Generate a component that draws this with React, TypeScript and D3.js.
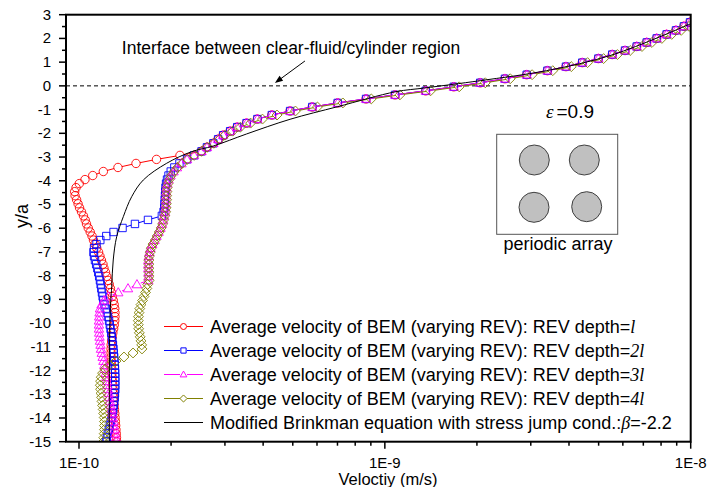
import React from 'react';
import * as d3 from 'd3';

// ---- data (velocities in units of 1e-10 m/s, y in units of a) ----
const yPos = [2.68, 2.51, 2.34, 2.17, 2.0, 1.83, 1.66, 1.49, 1.32, 1.15, 0.98, 0.81, 0.64, 0.47, 0.3, 0.13, -0.04, -0.21, -0.38, -0.55, -0.72, -0.89, -1.06, -1.23, -1.4, -1.57, -1.74, -1.91, -2.08, -2.25, -2.42, -2.59, -2.76, -2.93, -3.1, -3.27, -3.44, -3.61, -3.78, -3.95, -4.12, -4.29, -4.46, -4.63, -4.8, -4.97, -5.14, -5.31, -5.48, -5.65, -5.82, -5.99, -6.16, -6.33, -6.5, -6.67, -6.84, -7.01, -7.18, -7.35, -7.52, -7.69, -7.86, -8.03, -8.2, -8.37, -8.54, -8.71, -8.88, -9.05, -9.22, -9.39, -9.56, -9.73, -9.9, -10.07, -10.24, -10.41, -10.58, -10.75, -10.92, -11.09, -11.26, -11.43, -11.6, -11.77, -11.94, -12.11, -12.28, -12.45, -12.62, -12.79, -12.96, -13.13, -13.3, -13.47, -13.64, -13.81, -13.98, -14.15, -14.32, -14.49, -14.66, -14.83, -15.0];

const vDepth1 = [99.5, 95.0, 89.5, 83.4, 77.4, 71.8, 66.6, 61.0, 55.4, 49.9, 44.2, 39.1, 34.0, 29.1, 24.7, 20.5, 16.8, 13.6, 10.8, 8.68, 7.01, 5.79, 4.9, 4.27, 3.83, 3.53, 3.29, 3.12, 2.96, 2.85, 2.75, 2.62, 2.515,
  2.139, 1.792, 1.536, 1.341, 1.201, 1.109, 1.046, 1.002, 0.978, 0.968, 0.971, 0.982, 0.993, 1.004, 1.019, 1.034, 1.048, 1.058, 1.072, 1.088, 1.103, 1.115, 1.128, 1.143, 1.159, 1.171, 1.184, 1.198, 1.207, 1.221, 1.233, 1.244, 1.256, 1.267, 1.276, 1.285, 1.295, 1.303, 1.309, 1.311, 1.311, 1.309, 1.304, 1.298, 1.29, 1.284, 1.278, 1.274, 1.273, 1.273, 1.274, 1.276, 1.278, 1.28, 1.282, 1.284, 1.287, 1.29, 1.292, 1.295, 1.298, 1.3, 1.303, 1.306, 1.309, 1.312, 1.315, 1.318, 1.321, 1.324, 1.326, 1.328];

const vDepth2 = [99.5, 95.0, 89.5, 83.4, 77.4, 71.8, 66.6, 61.0, 55.4, 49.9, 44.2, 39.1, 34.0, 29.1, 24.7, 20.5, 16.8, 13.6, 10.8, 8.68, 7.01, 5.79, 4.9, 4.27, 3.83, 3.53, 3.29, 3.12, 2.96, 2.85, 2.75, 2.62, 2.515, 2.377, 2.255,
  2.13, 2.05, 1.995, 1.962, 1.94, 1.926, 1.918, 1.914, 1.911, 1.908, 1.904, 1.9, 1.89, 1.866,
  1.681, 1.524, 1.388, 1.297, 1.228, 1.174, 1.141, 1.12, 1.115, 1.12, 1.128, 1.138, 1.148, 1.156, 1.164, 1.171, 1.177, 1.183, 1.189, 1.195, 1.201,
  1.212, 1.223, 1.235, 1.244, 1.254, 1.261, 1.268, 1.274, 1.28, 1.286, 1.291, 1.296, 1.299, 1.303, 1.306, 1.309, 1.311, 1.313, 1.314, 1.314, 1.314, 1.313, 1.311, 1.308, 1.304, 1.299, 1.293, 1.287, 1.279, 1.27, 1.261, 1.252, 1.242, 1.233, 1.225];

const vDepth3 = [99.5, 95.0, 89.5, 83.4, 77.4, 71.8, 66.6, 61.0, 55.4, 49.9, 44.2, 39.1, 34.0, 29.1, 24.7, 20.5, 16.8, 13.6, 10.8, 8.68, 7.01, 5.79, 4.9, 4.27, 3.83, 3.53, 3.29, 3.12, 2.96, 2.85, 2.75, 2.62, 2.515, 2.377, 2.255,
  2.163, 2.091, 2.037, 1.992, 1.962, 1.944, 1.932, 1.928, 1.925, 1.925, 1.92, 1.915, 1.91, 1.896, 1.882, 1.868, 1.847, 1.82, 1.792, 1.766, 1.736, 1.713, 1.7, 1.69, 1.685, 1.685, 1.685, 1.687, 1.687, 1.685,
  1.547, 1.446, 1.344, 1.249, 1.207, 1.185, 1.171, 1.167, 1.164, 1.162, 1.162, 1.162, 1.164, 1.167, 1.171, 1.176, 1.18, 1.187, 1.195, 1.202, 1.21, 1.216, 1.223, 1.228, 1.235, 1.24, 1.244, 1.251, 1.256, 1.263, 1.27, 1.277, 1.284, 1.29, 1.297, 1.301, 1.31, 1.314, 1.319, 1.323];

const vDepth4 = [103.5, 98.8, 93.1, 86.7, 80.5, 74.7, 69.3, 63.4, 57.6, 51.9, 46.0, 40.7, 35.4, 30.3, 25.7, 21.3, 17.5, 14.1, 11.2, 9.03, 7.29, 6.02, 5.1, 4.44, 3.98, 3.64, 3.37, 3.18, 3.0, 2.88, 2.76, 2.62, 2.515, 2.38, 2.26,
  2.174, 2.101, 2.047, 2.002, 1.972, 1.954, 1.942, 1.938, 1.935, 1.935, 1.93, 1.925, 1.92, 1.906, 1.891, 1.877, 1.856, 1.829, 1.801, 1.775, 1.745, 1.722, 1.709, 1.698, 1.693, 1.693, 1.693, 1.695, 1.695,
  1.696, 1.677, 1.666, 1.65, 1.631, 1.613, 1.595, 1.58, 1.571, 1.565, 1.563, 1.563, 1.567, 1.575, 1.585, 1.595, 1.603, 1.607, 1.502, 1.403, 1.321, 1.258, 1.216, 1.194, 1.182, 1.176, 1.174, 1.176, 1.18, 1.185, 1.189, 1.194, 1.2, 1.204, 1.209, 1.211, 1.211, 1.211, 1.209, 1.205, 1.201];

const brinkV = [100, 55.7, 33.8, 20.5, 13.5, 10.87, 7.01, 4.9, 3.53, 2.75, 2.336, 1.935, 1.623, 1.487, 1.396, 1.328, 1.294, 1.279, 1.263, 1.256];
const brinkY = [2.62, 1.315, 0.641, 0.219, -0.089, -0.245, -0.877, -1.408, -2.028, -2.534, -2.774, -3.263, -3.967, -4.671, -5.514, -6.357, -7.34, -8.466, -9.73, -15.0];

const xMajorTicks = [1e-10, 1e-9, 1e-8];
const xTickLabels = ['1E-10', '1E-9', '1E-8'];
const yMajorTicks = [3, 2, 1, 0, -1, -2, -3, -4, -5, -6, -7, -8, -9, -10, -11, -12, -13, -14, -15];

const seriesDepths = ['l', '2l', '3l', '4l'];
const seriesColors = ['#ff0000', '#0000ff', '#ff00ff', '#808000'];
const seriesShapes = ['circle', 'square', 'triangle', 'diamond'];

const UNIT = 1e-10;
const W = 707, H = 487;
const L = 66, R = 690.7, T = 14.7, B = 441.7;
const FONT = '"Liberation Sans", Arial, Helvetica, sans-serif';
const SERIF = '"Liberation Serif", "Times New Roman", serif';

function shapePath(shape: string, s: number) {
  if (shape === 'circle') return `M${-s},0A${s},${s} 0 1,0 ${s},0A${s},${s} 0 1,0 ${-s},0Z`;
  if (shape === 'square') { const h = s * 0.88; return `M${-h},${-h}H${h}V${h}H${-h}Z`; }
  if (shape === 'triangle') return `M0,${-s * 1.15}L${s * 1.12},${s * 0.8}L${-s * 1.12},${s * 0.8}Z`;
  return `M0,${-s * 1.18}L${s * 1.18},0L0,${s * 1.18}L${-s * 1.18},0Z`;
}

export default function App() {
  const x = d3.scaleLog().domain([1e-10, 1e-8]).range([79, R]);
  const y = d3.scaleLinear().domain([-15, 3]).range([B, T]);
  const minorX = x.ticks(20).filter((t) => !xMajorTicks.some((m) => Math.abs(m - t) / m < 1e-6));
  const minorY = d3.range(-14.5, 3, 1);

  const allSeries = [vDepth1, vDepth2, vDepth3, vDepth4];
  const gap = 4;

  const seriesEls = allSeries.map((vals, si) => {
    const pts = vals.map((v, i) => [x(v * UNIT), y(yPos[i])] as [number, number]);
    const segs: string[] = [];
    for (let i = 0; i < pts.length - 1; i++) {
      const [x0, y0] = pts[i];
      const [x1, y1] = pts[i + 1];
      const d = Math.hypot(x1 - x0, y1 - y0);
      if (d > 2 * gap + 0.5) {
        const ux = (x1 - x0) / d, uy = (y1 - y0) / d;
        segs.push(`M${x0 + ux * gap},${y0 + uy * gap}L${x1 - ux * gap},${y1 - uy * gap}`);
      }
    }
    const p = shapePath(seriesShapes[si], 4.2);
    return (
      <g key={si}>
        <path d={segs.join('')} stroke={seriesColors[si]} strokeWidth={1} fill="none" />
        {pts.map(([px, py], i) => (
          <path key={i} d={p} transform={`translate(${px},${py})`} stroke={seriesColors[si]} strokeWidth={0.9} fill="none" />
        ))}
      </g>
    );
  });

  const brinkLine = d3.line<number>()
    .x((d) => x(brinkV[d] * UNIT))
    .y((d) => y(brinkY[d]))
    .curve(d3.curveCatmullRom.alpha(0.5))(brinkV.map((_, i) => i));

  const legendRows = [0, 1, 2, 3, 4];
  const legBase = 333;

  const arrowTail: [number, number] = [x(5.48e-10), y(1.05)];
  const arrowHead: [number, number] = [x(4.37e-10), y(0.12)];
  const adx = arrowHead[0] - arrowTail[0], ady = arrowHead[1] - arrowTail[1];
  const alen = Math.hypot(adx, ady);
  const aux = adx / alen, auy = ady / alen;
  const ah = 8, aw = 3;
  const headPts = [
    arrowHead,
    [arrowHead[0] - aux * ah - auy * aw, arrowHead[1] - auy * ah + aux * aw],
    [arrowHead[0] - aux * ah + auy * aw, arrowHead[1] - auy * ah - aux * aw],
  ].map((p) => p.join(',')).join(' ');

  return (
    <svg width={W} height={H} style={{ position: 'absolute', left: 0, top: 0, background: '#fff' }} fontFamily={FONT}>
      <defs>
        <clipPath id="plotclip">
          <rect x={L} y={T} width={R - L} height={B - T} />
        </clipPath>
      </defs>
      <rect x={0} y={0} width={W} height={H} fill="#fff" />

      {/* interface dashed line */}
      <line x1={L} x2={R} y1={y(0)} y2={y(0)} stroke="#000" strokeWidth={1} strokeDasharray="4,3" />

      <g clipPath="url(#plotclip)">
        {seriesEls}
        <path d={brinkLine || ''} stroke="#000" strokeWidth={1} fill="none" />
      </g>

      {/* axes box */}
      <rect x={L} y={T} width={R - L} height={B - T} fill="none" stroke="#000" strokeWidth={2} />

      {/* y ticks */}
      {yMajorTicks.map((t) => (
        <g key={'y' + t}>
          <line x1={L - 7} x2={L} y1={y(t)} y2={y(t)} stroke="#000" strokeWidth={1.5} />
          <text x={51} y={y(t) + 5} textAnchor="end" fontSize={15} fill="#000">{t}</text>
        </g>
      ))}
      {minorY.map((t) => (
        <line key={'ym' + t} x1={L - 4} x2={L} y1={y(t)} y2={y(t)} stroke="#000" strokeWidth={1.5} />
      ))}

      {/* x ticks */}
      {xMajorTicks.map((t, i) => (
        <g key={'x' + i}>
          <line x1={x(t)} x2={x(t)} y1={B} y2={B + 7} stroke="#000" strokeWidth={1.5} />
          <text x={x(t)} y={468} textAnchor="middle" fontSize={15} fill="#000">{xTickLabels[i]}</text>
        </g>
      ))}
      {minorX.map((t, i) => (
        <line key={'xm' + i} x1={x(t)} x2={x(t)} y1={B} y2={B + 4} stroke="#000" strokeWidth={1.5} />
      ))}

      {/* axis titles */}
      <text x={388} y={485} textAnchor="middle" fontSize={16.5} fill="#000">Veloctiy (m/s)</text>
      <text transform="translate(28,216) rotate(-90)" textAnchor="middle" fontSize={18} fill="#000">y/a</text>

      {/* annotation */}
      <text x={x(1.38e-10)} y={y(1.345)} fontSize={17.5} fill="#000">Interface between clear-fluid/cylinder region</text>
      <line x1={arrowTail[0]} y1={arrowTail[1]} x2={arrowHead[0] - aux * 6} y2={arrowHead[1] - auy * 6} stroke="#000" strokeWidth={1} />
      <polygon points={headPts} fill="#000" />

      {/* inset */}
      <text x={546} y={118} fontSize={19} fill="#000">
        <tspan fontFamily={SERIF} fontStyle="italic">ε</tspan>
        <tspan dx={3}>=0.9</tspan>
      </text>
      <rect x={496.7} y={134.3} width={121} height={100} fill="#fff" stroke="#555" strokeWidth={1} />
      {[[534.3, 160], [584.3, 160], [534, 207.3], [586.7, 206.7]].map(([cx, cy], i) => (
        <circle key={i} cx={cx} cy={cy} r={15} fill="#c0c0c0" stroke="#404040" strokeWidth={1} />
      ))}
      <text x={558} y={250} textAnchor="middle" fontSize={18} fill="#000">periodic array</text>

      {/* legend */}
      {legendRows.map((i) => {
        const by = legBase + i * 24;
        const cy = by - 6.5;
        if (i < 4) {
          return (
            <g key={'lg' + i}>
              <line x1={164} x2={180} y1={cy} y2={cy} stroke={seriesColors[i]} strokeWidth={1} />
              <line x1={187} x2={203} y1={cy} y2={cy} stroke={seriesColors[i]} strokeWidth={1} />
              <path d={shapePath(seriesShapes[i], 3)} transform={`translate(183.5,${cy})`} stroke={seriesColors[i]} fill="none" strokeWidth={1} />
              <text x={210} y={by} fontSize={18} fill="#000">
                Average velocity of BEM (varying REV): REV depth=
                <tspan fontFamily={SERIF} fontStyle="italic">{seriesDepths[i]}</tspan>
              </text>
            </g>
          );
        }
        return (
          <g key={'lg' + i}>
            <line x1={164} x2={203} y1={cy} y2={cy} stroke="#000" strokeWidth={1} />
            <text x={210} y={by} fontSize={18} fill="#000">
              Modified Brinkman equation with stress jump cond.:
              <tspan fontFamily={SERIF} fontStyle="italic">β</tspan>
              =-2.2
            </text>
          </g>
        );
      })}
    </svg>
  );
}
